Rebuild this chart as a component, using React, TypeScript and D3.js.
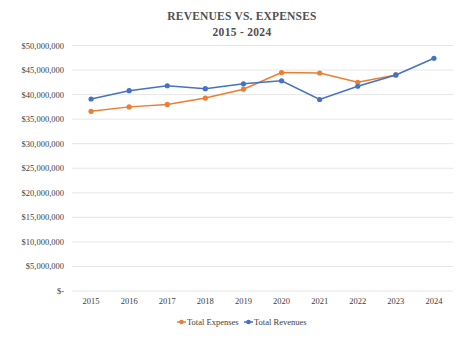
import React from "react";
import * as d3 from "d3";

const years = ["2015","2016","2017","2018","2019","2020","2021","2022","2023","2024"];
const expenses: (number | null)[] = [36.6e6, 37.5e6, 38.0e6, 39.3e6, 41.1e6, 44.5e6, 44.4e6, 42.5e6, 44.0e6, null];
const revenues: (number | null)[] = [39.1e6, 40.8e6, 41.8e6, 41.2e6, 42.2e6, 42.8e6, 39.0e6, 41.7e6, 44.0e6, 47.4e6];
const yTicks = [0, 5e6, 10e6, 15e6, 20e6, 25e6, 30e6, 35e6, 40e6, 45e6, 50e6];

const W = 474, H = 343;
const FONT = "'Liberation Serif', 'DejaVu Serif', serif";

export default function App() {
  const x = d3.scaleBand().domain(years).range([72, 453]);
  const y = d3.scaleLinear().domain([0, 50e6]).range([291, 45.5]);
  const fmt = (v: number) => (v === 0 ? "$-" : "$" + d3.format(",")(v));
  const line = d3.line<[string, number | null]>()
    .defined(d => d[1] != null)
    .x(d => (x(d[0]) as number) + x.bandwidth() / 2)
    .y(d => y(d[1] as number));
  const series = [
    { name: "Total Expenses", color: "#ED7D31", data: expenses, lx: 177 },
    { name: "Total Revenues", color: "#4472C4", data: revenues, lx: 244 },
  ];
  return (
    <svg width={W} height={H} style={{ position: "absolute", left: 0, top: 0, background: "#fff" }}>
      <rect width={W} height={H} fill="#fff" />
      <text x={242} y={20} textAnchor="middle" fontFamily={FONT} fontWeight="bold" fontSize={11.5} fill="#505050" letterSpacing={0.2}>REVENUES VS. EXPENSES</text>
      <text x={242} y={36} textAnchor="middle" fontFamily={FONT} fontWeight="bold" fontSize={11.5} fill="#505050" letterSpacing={0.3}>2015 - 2024</text>
      {yTicks.map(t => (
        <g key={t}>
          <line x1={72} x2={453} y1={y(t)} y2={y(t)} stroke="#e6e6e6" strokeWidth={1} />
          <text x={64} y={y(t) + 3} textAnchor="end" fontFamily={FONT} fontSize={8.5} fill="#404040">{fmt(t)}</text>
        </g>
      ))}
      {years.map(yr => (
        <text key={yr} x={(x(yr) as number) + x.bandwidth() / 2} y={304} textAnchor="middle" fontFamily={FONT} fontSize={8.5} fill="#404040">{yr}</text>
      ))}
      {series.map(s => {
        const pts = years.map((yr, i) => [yr, s.data[i]] as [string, number | null]);
        return (
          <g key={s.name}>
            <path d={line(pts) || ""} fill="none" stroke={s.color} strokeWidth={1.5} />
            {pts.filter(p => p[1] != null).map(p => (
              <circle key={p[0]} cx={(x(p[0]) as number) + x.bandwidth() / 2} cy={y(p[1] as number)} r={2.6} fill={s.color} />
            ))}
          </g>
        );
      })}
      {series.map(s => (
        <g key={s.name}>
          <line x1={s.lx} x2={s.lx + 9} y1={322} y2={322} stroke={s.color} strokeWidth={1.5} />
          <circle cx={s.lx + 4.5} cy={322} r={2.3} fill={s.color} />
          <text x={s.lx + 10} y={325} fontFamily={FONT} fontSize={8.5} fill="#404040">{s.name}</text>
        </g>
      ))}
    </svg>
  );
}
